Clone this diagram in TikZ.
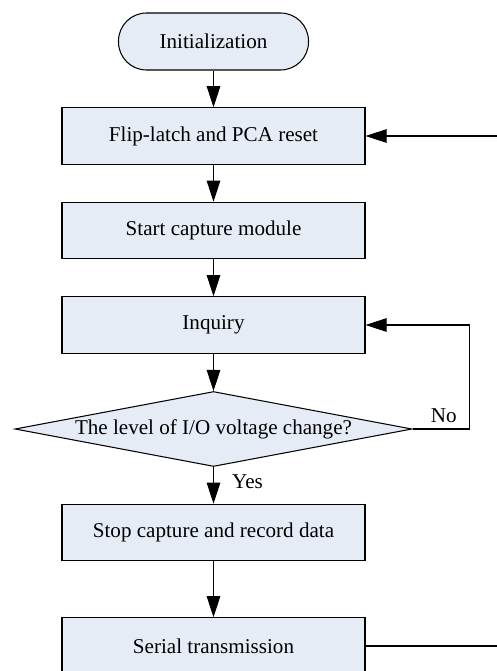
\documentclass[tikz,border=0pt]{standalone}
\usepackage{fontspec}
\setmainfont{Liberation Serif}
\usetikzlibrary{arrows.meta,shapes.geometric}
\definecolor{boxfill}{RGB}{230,236,246}
\tikzset{
  every node/.style={font=\fontsize{12}{14}\selectfont},
  procbox/.style={draw, fill=boxfill, line width=0.6pt, minimum width=6.06cm, minimum height=1.13cm},
  termbox/.style={draw, fill=boxfill, line width=0.6pt, rounded corners=0.56cm, minimum width=3.8cm, minimum height=1.14cm},
  testbox/.style={draw, diamond, shape aspect=5.3, fill=boxfill, line width=0.6pt, inner sep=0pt, minimum width=7.94cm, minimum height=1.5cm},
  flow/.style={line width=0.6pt, -{Triangle[length=4.2mm, width=2.7mm]}}
}
\begin{document}
\begin{tikzpicture}
      \useasboundingbox (0,0) rectangle (9.94,-13.42);
      \draw
        (4.27,-0.83) node[termbox] (init){Initialization}
        (4.27,-2.72) node[procbox] (flip){Flip-latch and PCA reset}
        (4.27,-4.61) node[procbox] (start){Start capture module}
        (4.27,-6.50) node[procbox] (inquiry){Inquiry}
        (4.27,-8.58) node[testbox] (level){The level of I/O voltage change?}
        (4.27,-10.65) node[procbox] (stop){Stop capture and record data}
        (4.27,-12.92) node[procbox] (serial){Serial transmission};
      \coordinate (backin) at (9.94,-2.72);
      \coordinate (backout) at (9.94,-12.92);
      \begin{scope}[flow]
        \draw (init) to (flip);
        \draw (flip) to (start);
        \draw (start) to (inquiry);
        \draw (inquiry) to (level);
        \draw (level) to node[right, xshift=7pt, pos=0.4] (yes){Yes} (stop);
        \draw (stop) to (serial);
        \draw (level.east) -- node[above, pos=0.55] (no){No} ++(1.14,0) |- (inquiry.east);
        \draw (backin) to (flip.east);
      \end{scope}
      \draw[line width=0.6pt] (serial.east) -- (backout);
    \end{tikzpicture}
\end{document}
